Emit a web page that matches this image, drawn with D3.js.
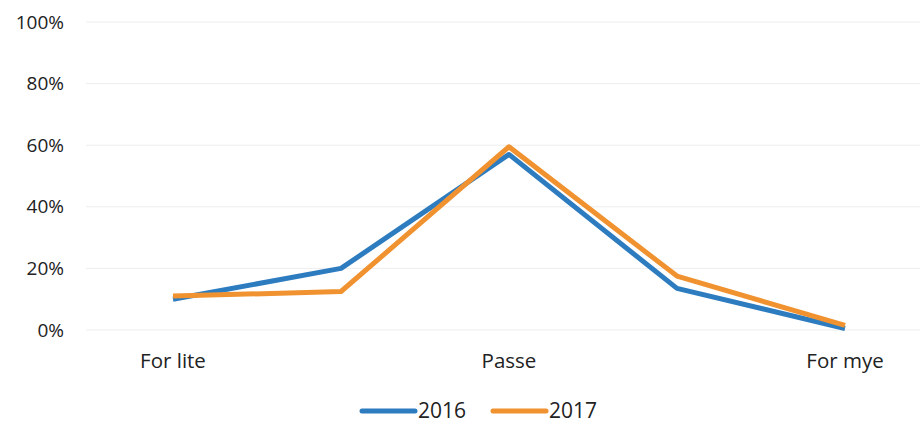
<!DOCTYPE html>
<html>
<head>
<meta charset="utf-8">
<script src="https://cdn.jsdelivr.net/npm/d3@7"></script>
<style>
  body { margin: 0; background: #fff; }
  text { font-family: "Open Sans", sans-serif; fill: #222; }
</style>
</head>
<body>
<script>
// categories, only every other one carries a label
var categories = ["For lite", "", "Passe", "", "For mye"];
var values2016 = [10, 20, 57, 13.5, 0.5];
var values2017 = [11, 12.5, 59.5, 17.5, 1.5];
var yTicks = [0, 20, 40, 60, 80, 100];
var seriesNames = ["2016", "2017"];

var width = 923, height = 428;
var colors = ["#2e7cc0", "#f0922f"];

var svg = d3.select("body").append("svg")
    .attr("width", width)
    .attr("height", height);

var x = d3.scalePoint()
    .domain(d3.range(categories.length))
    .range([89, 929])
    .padding(0.5);

var y = d3.scaleLinear()
    .domain([0, 100])
    .range([330, 22]);

// gridlines
svg.append("g")
  .selectAll("line")
    .data(yTicks)
  .enter().append("line")
    .attr("x1", 86)
    .attr("x2", 920)
    .attr("y1", function(d) { return y(d); })
    .attr("y2", function(d) { return y(d); })
    .style("stroke", "#ededed")
    .style("stroke-width", 1);

// y labels
svg.append("g")
  .selectAll("text")
    .data(yTicks)
  .enter().append("text")
    .attr("x", 64)
    .attr("y", function(d) { return y(d); })
    .attr("dy", "0.35em")
    .attr("text-anchor", "end")
    .style("font-size", "19px")
    .text(function(d) { return d + "%"; });

// x labels
svg.append("g")
  .selectAll("text")
    .data(categories)
  .enter().append("text")
    .attr("x", function(d, i) { return x(i); })
    .attr("y", 368)
    .attr("text-anchor", "middle")
    .style("font-size", "20.5px")
    .text(function(d) { return d; });

var line = d3.line()
    .x(function(d, i) { return x(i); })
    .y(function(d) { return y(d); });

[values2016, values2017].forEach(function(vals, k) {
  svg.append("path")
      .datum(vals)
      .attr("d", line)
      .style("fill", "none")
      .style("stroke", colors[k])
      .style("stroke-width", 5)
      .style("stroke-linejoin", "round");
});

// legend
var legend = svg.append("g").attr("transform", "translate(360, 411)");
seriesNames.forEach(function(name, k) {
  var g = legend.append("g").attr("transform", "translate(" + (k * 131) + ",0)");
  g.append("line")
      .attr("x1", 2).attr("x2", 55)
      .attr("y1", 0).attr("y2", 0)
      .style("stroke", colors[k])
      .style("stroke-width", 5)
      .style("stroke-linecap", "round");
  g.append("text")
      .attr("x", 58)
      .attr("y", 0)
      .attr("dy", "0.35em")
      .style("font-size", "21px")
      .text(name);
});
</script>
</body>
</html>
